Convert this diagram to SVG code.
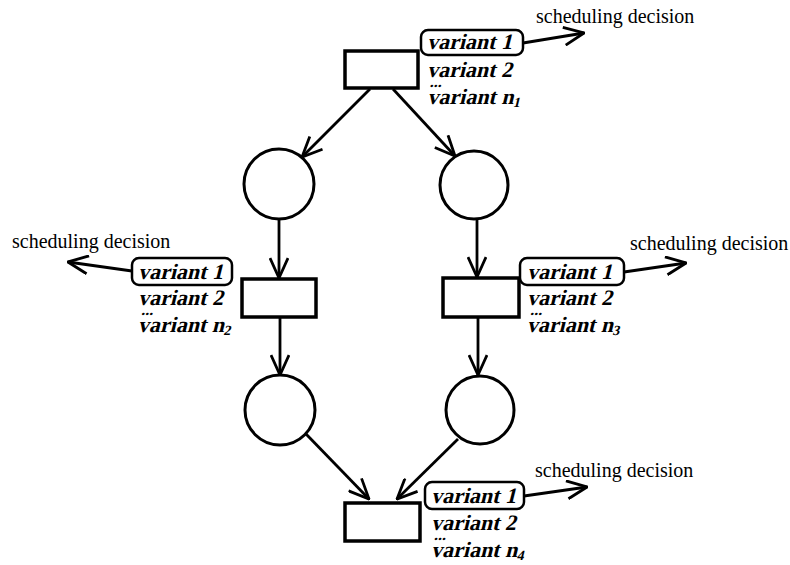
<svg xmlns="http://www.w3.org/2000/svg" width="790" height="565" viewBox="0 0 790 565">
  <defs>
    <style>
      .tr { fill: #fff; stroke: #000; stroke-width: 3.5; }
      .pl { fill: #fff; stroke: #000; stroke-width: 3; }
      .arc { stroke: #000; stroke-width: 2.8; fill: none; marker-end: url(#head); }
      .sel { fill: #fff; stroke: #000; stroke-width: 2.5; }
      .var { font-family: "Liberation Serif", "Times New Roman", serif; font-weight: bold; font-size: 22px; fill: #000; }
      .dots { font-family: "Liberation Serif", "Times New Roman", serif; font-weight: bold; font-size: 16px; fill: #000; }
      .sub { font-size: 14px; }
      .dec { font-family: "Liberation Serif", "Times New Roman", serif; font-size: 20px; fill: #000; }
    </style>
    <marker id="head" viewBox="0 0 22 20" refX="21" refY="10" markerWidth="22" markerHeight="20" markerUnits="userSpaceOnUse" orient="auto">
      <path d="M1,1 L21,10 L1,19" fill="none" stroke="#000" stroke-width="2.8"/>
    </marker>
  </defs>

  <!-- connectors -->
  <g id="connectors">
    <line class="arc" x1="370" y1="89" x2="302" y2="157"/>
    <line class="arc" x1="393" y1="89" x2="455" y2="156"/>
    <line class="arc" x1="279" y1="219" x2="279" y2="278"/>
    <line class="arc" x1="477" y1="219" x2="477" y2="277"/>
    <line class="arc" x1="280" y1="317" x2="280" y2="375"/>
    <line class="arc" x1="478" y1="317" x2="478" y2="375"/>
    <line class="arc" x1="306" y1="434" x2="369" y2="499"/>
    <line class="arc" x1="458" y1="439" x2="397" y2="499"/>
    <line class="arc" x1="523" y1="43" x2="584" y2="33"/>
    <line class="arc" x1="132" y1="271" x2="68" y2="262"/>
    <line class="arc" x1="624" y1="272" x2="686" y2="263"/>
    <line class="arc" x1="524" y1="496" x2="587" y2="487"/>
  </g>

  <!-- top transition; variant list is slanted by a skew (x offsets undo the skew's drift) -->
  <g id="t1">
    <rect class="tr" x="345" y="51" width="73" height="37"/>
    <rect class="sel" x="421" y="30" width="102" height="25" rx="7"/>
    <g transform="translate(427,49) skewX(-14)">
      <text class="var" x="0" y="0">variant 1</text>
      <text class="var" x="7" y="28">variant 2</text>
      <text class="dots" x="12" y="38">...</text>
      <text class="var" x="14" y="55">variant n<tspan class="sub" dy="3">1</tspan></text>
    </g>
    <text class="dec" x="536" y="23">scheduling decision</text>
  </g>

  <!-- places, upper row -->
  <g id="p1"><circle class="pl" cx="279" cy="184" r="35"/></g>
  <g id="p2"><circle class="pl" cx="474" cy="185" r="34"/></g>

  <!-- left transition -->
  <g id="t2">
    <rect class="tr" x="242" y="279" width="74" height="38"/>
    <rect class="sel" x="132" y="258" width="100" height="27" rx="7"/>
    <g transform="translate(138,279) skewX(-14)">
      <text class="var" x="0" y="0">variant 1</text>
      <text class="var" x="6.5" y="26">variant 2</text>
      <text class="dots" x="12" y="36">...</text>
      <text class="var" x="13" y="53">variant n<tspan class="sub" dy="3">2</tspan></text>
    </g>
    <text class="dec" x="12" y="248">scheduling decision</text>
  </g>

  <!-- right transition -->
  <g id="t3">
    <rect class="tr" x="443" y="278" width="76" height="39"/>
    <rect class="sel" x="520" y="258" width="104" height="27" rx="7"/>
    <g transform="translate(527,279) skewX(-14)">
      <text class="var" x="0" y="0">variant 1</text>
      <text class="var" x="6.5" y="26">variant 2</text>
      <text class="dots" x="12" y="36">...</text>
      <text class="var" x="13" y="53">variant n<tspan class="sub" dy="3">3</tspan></text>
    </g>
    <text class="dec" x="630" y="250">scheduling decision</text>
  </g>

  <!-- places, lower row -->
  <g id="p3"><circle class="pl" cx="280" cy="410" r="35"/></g>
  <g id="p4"><circle class="pl" cx="480" cy="410" r="34"/></g>

  <!-- bottom transition -->
  <g id="t4">
    <rect class="tr" x="345" y="503" width="75" height="38"/>
    <rect class="sel" x="425" y="482" width="99" height="27" rx="7"/>
    <g transform="translate(431,503) skewX(-14)">
      <text class="var" x="0" y="0">variant 1</text>
      <text class="var" x="6.7" y="27">variant 2</text>
      <text class="dots" x="12" y="37">...</text>
      <text class="var" x="13.5" y="54">variant n<tspan class="sub" dy="3">4</tspan></text>
    </g>
    <text class="dec" x="535" y="477">scheduling decision</text>
  </g>
</svg>
